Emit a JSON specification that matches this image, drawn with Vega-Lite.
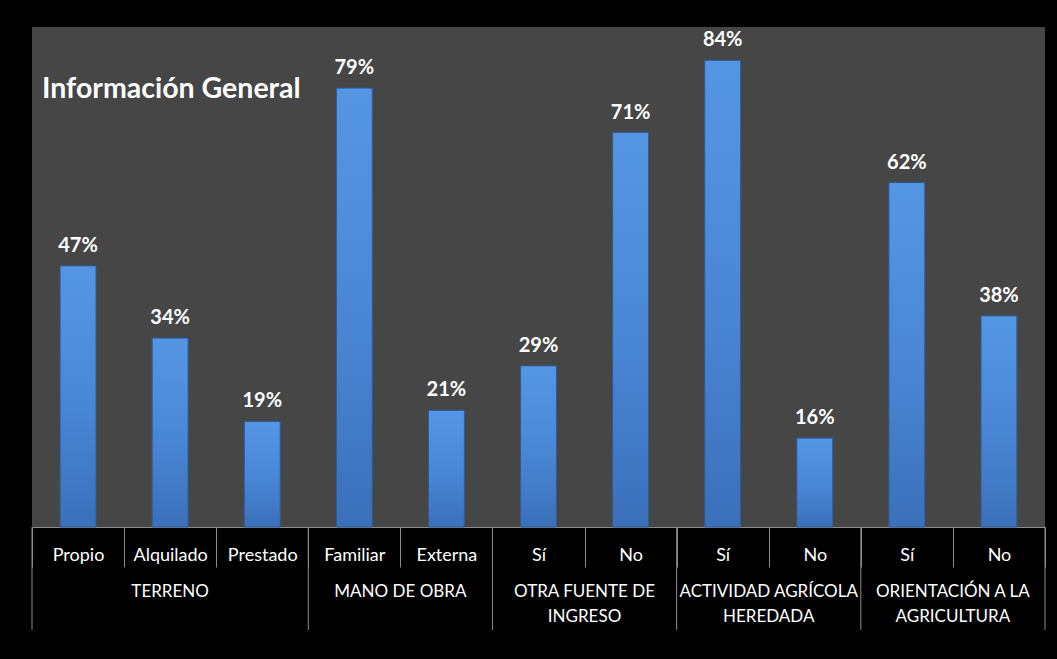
{
  "$schema": "https://vega.github.io/schema/vega-lite/v6.json",
  "width": 1013,
  "height": 500,
  "autosize": {"type": "none"},
  "padding": {"left": 32, "top": 27, "right": 12, "bottom": 132},
  "background": "#000000",
  "title": {
    "text": "Información General",
    "anchor": "start",
    "frame": "group",
    "orient": "top",
    "offset": 0,
    "dx": 10,
    "dy": 99,
    "baseline": "alphabetic",
    "font": "Lato",
    "fontSize": 28.5,
    "fontWeight": "bold",
    "color": "#ffffff"
  },
  "config": {
    "view": {"fill": "#464646", "stroke": null},
    "font": "Lato"
  },
  "datasets": {
    "bars": [
      {"key": "TERRENO|Propio", "value": 0.47},
      {"key": "TERRENO|Alquilado", "value": 0.34},
      {"key": "TERRENO|Prestado", "value": 0.19},
      {"key": "MANO DE OBRA|Familiar", "value": 0.79},
      {"key": "MANO DE OBRA|Externa", "value": 0.21},
      {"key": "OTRA FUENTE DE INGRESO|Sí", "value": 0.29},
      {"key": "OTRA FUENTE DE INGRESO|No", "value": 0.71},
      {"key": "ACTIVIDAD AGRÍCOLA HEREDADA|Sí", "value": 0.84},
      {"key": "ACTIVIDAD AGRÍCOLA HEREDADA|No", "value": 0.16},
      {"key": "ORIENTACIÓN A LA AGRICULTURA|Sí", "value": 0.62},
      {"key": "ORIENTACIÓN A LA AGRICULTURA|No", "value": 0.38}
    ],
    "groupOdd": [
      {"key": "TERRENO|Alquilado", "label": "TERRENO"}
    ],
    "groupEven": [
      {"key": "MANO DE OBRA|Familiar", "label": "MANO DE OBRA"},
      {"key": "OTRA FUENTE DE INGRESO|Sí", "label": "OTRA FUENTE DE\nINGRESO"},
      {"key": "ACTIVIDAD AGRÍCOLA HEREDADA|Sí", "label": "ACTIVIDAD AGRÍCOLA\nHEREDADA"},
      {"key": "ORIENTACIÓN A LA AGRICULTURA|Sí", "label": "ORIENTACIÓN A LA\nAGRICULTURA"}
    ],
    "groupStarts": [
      {"key": "TERRENO|Propio"},
      {"key": "MANO DE OBRA|Familiar"},
      {"key": "OTRA FUENTE DE INGRESO|Sí"},
      {"key": "ACTIVIDAD AGRÍCOLA HEREDADA|Sí"},
      {"key": "ORIENTACIÓN A LA AGRICULTURA|Sí"}
    ],
    "groupEnd": [
      {"key": "ORIENTACIÓN A LA AGRICULTURA|No"}
    ]
  },
  "layer": [
    {
      "data": {"name": "bars"},
      "mark": {
        "type": "bar",
        "width": {"band": 0.39},
        "stroke": "#2f5a94",
        "strokeWidth": 1,
        "color": {
          "gradient": "linear",
          "x1": 0, "y1": 0, "x2": 0, "y2": 1,
          "stops": [
            {"offset": 0, "color": "#5596e4"},
            {"offset": 0.5, "color": "#4a88d7"},
            {"offset": 1, "color": "#3b70ba"}
          ]
        }
      },
      "encoding": {
        "x": {
          "field": "key", "type": "nominal",
          "scale": {"domain": ["TERRENO|Propio","TERRENO|Alquilado","TERRENO|Prestado","MANO DE OBRA|Familiar","MANO DE OBRA|Externa","OTRA FUENTE DE INGRESO|Sí","OTRA FUENTE DE INGRESO|No","ACTIVIDAD AGRÍCOLA HEREDADA|Sí","ACTIVIDAD AGRÍCOLA HEREDADA|No","ORIENTACIÓN A LA AGRICULTURA|Sí","ORIENTACIÓN A LA AGRICULTURA|No"], "paddingInner": 0, "paddingOuter": 0},
          "axis": {"title": null, "labelExpr": "split(datum.label, '|')[1]", "labelAngle": 0, "labelFont": "Lato", "labelFontSize": 18, "labelColor": "#ffffff", "labelPadding": -21, "labelOverlap": false, "labelBaseline": "top", "tickBand": "extent", "tickSize": 40, "tickColor": "#8c8c8c", "tickWidth": 1, "domainColor": "#8c8c8c", "domainWidth": 1, "grid": false}
        },
        "y": {"field": "value", "type": "quantitative", "scale": {"domain": [0, 0.9], "nice": false}, "axis": null}
      }
    },
    {
      "data": {"name": "bars"},
      "mark": {"type": "text", "baseline": "alphabetic", "dy": -14, "font": "Lato", "fontSize": 20, "fontWeight": "bold", "color": "#ffffff"},
      "encoding": {
        "x": {
          "field": "key", "type": "nominal",
          "scale": {"domain": ["TERRENO|Propio","TERRENO|Alquilado","TERRENO|Prestado","MANO DE OBRA|Familiar","MANO DE OBRA|Externa","OTRA FUENTE DE INGRESO|Sí","OTRA FUENTE DE INGRESO|No","ACTIVIDAD AGRÍCOLA HEREDADA|Sí","ACTIVIDAD AGRÍCOLA HEREDADA|No","ORIENTACIÓN A LA AGRICULTURA|Sí","ORIENTACIÓN A LA AGRICULTURA|No"], "paddingInner": 0, "paddingOuter": 0},
          "axis": {"title": null, "labelExpr": "split(datum.label, '|')[1]", "labelAngle": 0, "labelFont": "Lato", "labelFontSize": 18, "labelColor": "#ffffff", "labelPadding": -21, "labelOverlap": false, "labelBaseline": "top", "tickBand": "extent", "tickSize": 40, "tickColor": "#8c8c8c", "tickWidth": 1, "domainColor": "#8c8c8c", "domainWidth": 1, "grid": false}
        },
        "y": {"field": "value", "type": "quantitative", "scale": {"domain": [0, 0.9], "nice": false}, "axis": null},
        "text": {"field": "value", "type": "quantitative", "format": ".0%"}
      }
    },
    {
      "data": {"name": "groupOdd"},
      "mark": {"type": "text", "baseline": "top", "align": "center", "lineBreak": "\n", "lineHeight": 25, "font": "Lato", "fontSize": 17, "color": "#ffffff"},
      "encoding": {
        "x": {
          "field": "key", "type": "nominal", "bandPosition": 0.5,
          "scale": {"domain": ["TERRENO|Propio","TERRENO|Alquilado","TERRENO|Prestado","MANO DE OBRA|Familiar","MANO DE OBRA|Externa","OTRA FUENTE DE INGRESO|Sí","OTRA FUENTE DE INGRESO|No","ACTIVIDAD AGRÍCOLA HEREDADA|Sí","ACTIVIDAD AGRÍCOLA HEREDADA|No","ORIENTACIÓN A LA AGRICULTURA|Sí","ORIENTACIÓN A LA AGRICULTURA|No"], "paddingInner": 0, "paddingOuter": 0},
          "axis": {"title": null, "labelExpr": "split(datum.label, '|')[1]", "labelAngle": 0, "labelFont": "Lato", "labelFontSize": 18, "labelColor": "#ffffff", "labelPadding": -21, "labelOverlap": false, "labelBaseline": "top", "tickBand": "extent", "tickSize": 40, "tickColor": "#8c8c8c", "tickWidth": 1, "domainColor": "#8c8c8c", "domainWidth": 1, "grid": false}
        },
        "y": {"datum": -0.1026, "type": "quantitative", "scale": {"domain": [0, 0.9], "nice": false}, "axis": null},
        "text": {"field": "label", "type": "nominal"}
      }
    },
    {
      "data": {"name": "groupEven"},
      "mark": {"type": "text", "baseline": "top", "align": "center", "lineBreak": "\n", "lineHeight": 25, "font": "Lato", "fontSize": 17, "color": "#ffffff"},
      "encoding": {
        "x": {
          "field": "key", "type": "nominal", "bandPosition": 1,
          "scale": {"domain": ["TERRENO|Propio","TERRENO|Alquilado","TERRENO|Prestado","MANO DE OBRA|Familiar","MANO DE OBRA|Externa","OTRA FUENTE DE INGRESO|Sí","OTRA FUENTE DE INGRESO|No","ACTIVIDAD AGRÍCOLA HEREDADA|Sí","ACTIVIDAD AGRÍCOLA HEREDADA|No","ORIENTACIÓN A LA AGRICULTURA|Sí","ORIENTACIÓN A LA AGRICULTURA|No"], "paddingInner": 0, "paddingOuter": 0},
          "axis": {"title": null, "labelExpr": "split(datum.label, '|')[1]", "labelAngle": 0, "labelFont": "Lato", "labelFontSize": 18, "labelColor": "#ffffff", "labelPadding": -21, "labelOverlap": false, "labelBaseline": "top", "tickBand": "extent", "tickSize": 40, "tickColor": "#8c8c8c", "tickWidth": 1, "domainColor": "#8c8c8c", "domainWidth": 1, "grid": false}
        },
        "y": {"datum": -0.1026, "type": "quantitative", "scale": {"domain": [0, 0.9], "nice": false}, "axis": null},
        "text": {"field": "label", "type": "nominal"}
      }
    },
    {
      "data": {"name": "groupStarts"},
      "mark": {"type": "rule", "color": "#8c8c8c", "strokeWidth": 1},
      "encoding": {
        "x": {
          "field": "key", "type": "nominal", "bandPosition": 0,
          "scale": {"domain": ["TERRENO|Propio","TERRENO|Alquilado","TERRENO|Prestado","MANO DE OBRA|Familiar","MANO DE OBRA|Externa","OTRA FUENTE DE INGRESO|Sí","OTRA FUENTE DE INGRESO|No","ACTIVIDAD AGRÍCOLA HEREDADA|Sí","ACTIVIDAD AGRÍCOLA HEREDADA|No","ORIENTACIÓN A LA AGRICULTURA|Sí","ORIENTACIÓN A LA AGRICULTURA|No"], "paddingInner": 0, "paddingOuter": 0},
          "axis": {"title": null, "labelExpr": "split(datum.label, '|')[1]", "labelAngle": 0, "labelFont": "Lato", "labelFontSize": 18, "labelColor": "#ffffff", "labelPadding": -21, "labelOverlap": false, "labelBaseline": "top", "tickBand": "extent", "tickSize": 40, "tickColor": "#8c8c8c", "tickWidth": 1, "domainColor": "#8c8c8c", "domainWidth": 1, "grid": false}
        },
        "y": {"datum": 0, "type": "quantitative", "scale": {"domain": [0, 0.9], "nice": false}, "axis": null},
        "y2": {"datum": -0.1854}
      }
    },
    {
      "data": {"name": "groupEnd"},
      "mark": {"type": "rule", "color": "#8c8c8c", "strokeWidth": 1},
      "encoding": {
        "x": {
          "field": "key", "type": "nominal", "bandPosition": 1,
          "scale": {"domain": ["TERRENO|Propio","TERRENO|Alquilado","TERRENO|Prestado","MANO DE OBRA|Familiar","MANO DE OBRA|Externa","OTRA FUENTE DE INGRESO|Sí","OTRA FUENTE DE INGRESO|No","ACTIVIDAD AGRÍCOLA HEREDADA|Sí","ACTIVIDAD AGRÍCOLA HEREDADA|No","ORIENTACIÓN A LA AGRICULTURA|Sí","ORIENTACIÓN A LA AGRICULTURA|No"], "paddingInner": 0, "paddingOuter": 0},
          "axis": {"title": null, "labelExpr": "split(datum.label, '|')[1]", "labelAngle": 0, "labelFont": "Lato", "labelFontSize": 18, "labelColor": "#ffffff", "labelPadding": -21, "labelOverlap": false, "labelBaseline": "top", "tickBand": "extent", "tickSize": 40, "tickColor": "#8c8c8c", "tickWidth": 1, "domainColor": "#8c8c8c", "domainWidth": 1, "grid": false}
        },
        "y": {"datum": 0, "type": "quantitative", "scale": {"domain": [0, 0.9], "nice": false}, "axis": null},
        "y2": {"datum": -0.1854}
      }
    }
  ]
}
